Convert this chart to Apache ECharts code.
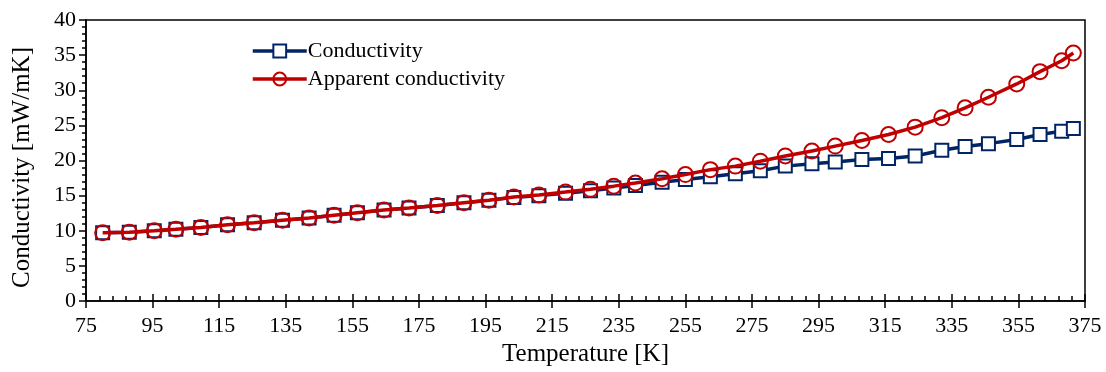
<!DOCTYPE html>
<html>
<head>
<meta charset="utf-8">
<script src="https://cdn.jsdelivr.net/npm/echarts@6/dist/echarts.min.js"></script>
<style>
  html, body { margin: 0; padding: 0; background: #fff; }
  #chart { width: 1106px; height: 372px; }
</style>
</head>
<body>
<div id="chart"></div>
<script>
// temperatures [K]
const temps = [80, 88, 95.5, 102, 109.5, 117.5, 125.5, 134, 142, 149.5,
  156.5, 164.5, 172, 180.5, 188.5, 196, 203.5, 211, 219, 226.5,
  233.5, 240, 248, 255, 262.5, 270, 277.5, 285, 293, 300,
  308, 316, 324, 332, 339, 346, 354.5, 361.5, 368, 371.5]
// conductivity [mW/mK]
const conductivity = [9.7, 9.8, 10.0, 10.2, 10.45, 10.85, 11.15, 11.5, 11.8, 12.2,
  12.55, 12.95, 13.25, 13.6, 14.0, 14.35, 14.75, 15.0, 15.35, 15.7,
  16.1, 16.45, 16.9, 17.3, 17.7, 18.1, 18.55, 19.2, 19.55, 19.8,
  20.15, 20.3, 20.65, 21.45, 22.0, 22.4, 23.0, 23.7, 24.15, 24.55]
// apparent conductivity [mW/mK]
const apparent = [9.7, 9.8, 10.0, 10.2, 10.45, 10.85, 11.15, 11.5, 11.8, 12.2,
  12.55, 12.95, 13.25, 13.6, 14.0, 14.35, 14.8, 15.1, 15.5, 15.9,
  16.35, 16.8, 17.4, 18.0, 18.7, 19.2, 19.9, 20.65, 21.35, 22.05,
  22.85, 23.7, 24.75, 26.1, 27.5, 29.0, 30.9, 32.65, 34.2, 35.3]

const font = '"Liberation Serif", "Times New Roman", serif'
const blue = '#002464'
const red = '#c00000'

const chart = echarts.init(document.getElementById('chart'))

const xBase = { type: 'value', min: 75, max: 375, interval: 20, gridIndex: 0 }
const yBase = { type: 'value', min: 0, max: 40, interval: 5, gridIndex: 0 }

const option = {
  animation: false,
  backgroundColor: '#fff',
  textStyle: { fontFamily: font },
  grid: { left: 86, right: 21, top: 20, bottom: 70, show: true, borderColor: '#000', borderWidth: 1.5 },
  legend: {
    orient: 'vertical',
    left: 246,
    top: 35,
    itemWidth: 54,
    itemHeight: 16,
    itemGap: 6,
    lineStyle: { width: 3.5 },
    textStyle: { fontFamily: font, fontSize: 22, lineHeight: 22, color: '#000', padding: [0, 0, 0, -4] },
    data: ['Conductivity', 'Apparent conductivity']
  },
  xAxis: [
    {
      ...xBase,
      name: 'Temperature [K]',
      nameLocation: 'middle',
      nameGap: 41,
      nameTextStyle: { fontFamily: font, fontSize: 25, color: '#000' },
      axisLine: { lineStyle: { color: '#000', width: 1.5 } },
      axisTick: { show: true, length: 7, lineStyle: { color: '#000', width: 1.5 } },
      minorTick: { show: false },
      axisLabel: { fontFamily: font, fontSize: 22, color: '#000', margin: 14 },
      splitLine: { show: false }
    },
    {
      ...xBase,
      position: 'bottom',
      axisLine: { show: false },
      axisTick: { show: true, inside: true, length: 7, lineStyle: { color: '#000', width: 1.5 } },
      minorTick: { show: true, splitNumber: 5, length: 5, lineStyle: { color: '#000', width: 1.5 } },
      axisLabel: { show: false },
      splitLine: { show: false }
    }
  ],
  yAxis: [
    {
      ...yBase,
      name: 'Conductivity [mW/mK]',
      nameLocation: 'middle',
      nameGap: 51,
      nameTextStyle: { fontFamily: font, fontSize: 25, color: '#000', padding: [0, 14, 0, 0] },
      axisLine: { show: true, lineStyle: { color: '#000', width: 1.5 } },
      axisTick: { show: true, length: 7, lineStyle: { color: '#000', width: 1.5 } },
      minorTick: { show: true, splitNumber: 5, length: 3, lineStyle: { color: '#000', width: 1.5 } },
      axisLabel: { fontFamily: font, fontSize: 22, color: '#000', margin: 10 },
      splitLine: { show: false }
    },
    {
      ...yBase,
      position: 'left',
      axisLine: { show: false },
      axisTick: { show: false },
      minorTick: { show: true, splitNumber: 5, length: 4, lineStyle: { color: '#000', width: 1.5 } },
      axisLabel: { show: false },
      splitLine: { show: false }
    }
  ],
  series: [
    {
      name: 'Conductivity',
      type: 'line',
      data: temps.map((t, i) => [t, conductivity[i]]),
      symbol: 'rect',
      symbolSize: 13,
      lineStyle: { color: blue, width: 3.5 },
      itemStyle: { color: '#fff', borderColor: blue, borderWidth: 2 },
      z: 2
    },
    {
      name: 'Apparent conductivity',
      type: 'line',
      data: temps.map((t, i) => [t, apparent[i]]),
      symbol: 'circle',
      symbolSize: 15,
      lineStyle: { color: red, width: 3.5 },
      itemStyle: { color: 'rgba(255,255,255,0)', borderColor: red, borderWidth: 2 },
      z: 3
    }
  ]
}

chart.setOption(option)
</script>
</body>
</html>
